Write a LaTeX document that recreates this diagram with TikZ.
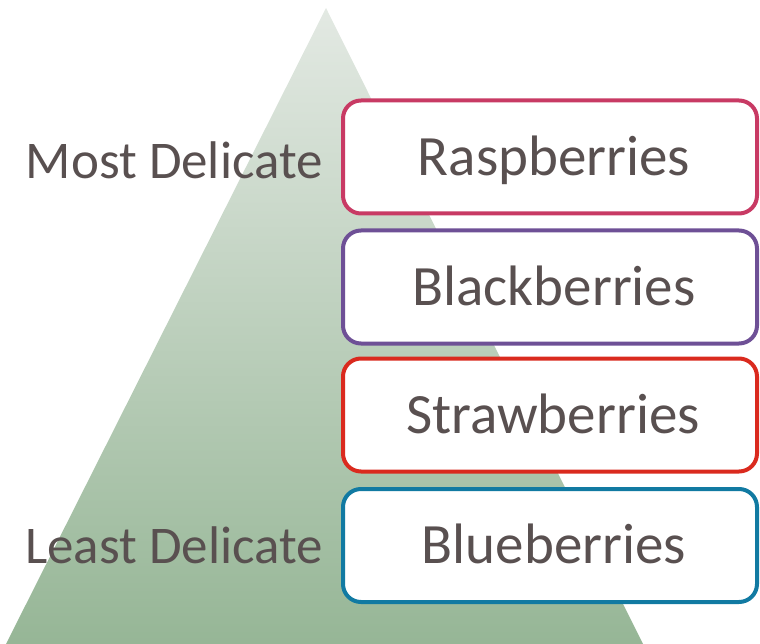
\documentclass[tikz,border=0pt]{standalone}
\usepackage{fontspec}
\setmainfont{Carlito}
\usepackage{tikz}
\definecolor{txtgray}{HTML}{595050}
\definecolor{raspcol}{HTML}{C83A64}
\definecolor{blackcol}{HTML}{6E5096}
\definecolor{strawcol}{HTML}{DA2A1E}
\definecolor{bluecol}{HTML}{117AA2}
\definecolor{pyrtop}{HTML}{E3E9E3}
\definecolor{pyrbot}{HTML}{96B696}
\tikzset{
  berry/.style={draw,line width=4pt,rounded corners=18pt,fill=white,
    minimum width=414pt,minimum height=113pt,inner sep=0pt,
    text height=36.5pt,text depth=0pt,
    text=txtgray,font=\fontsize{57}{68}\selectfont},
  level/.style={anchor=base east,text=txtgray,inner sep=0pt,
    font=\fontsize{53}{64}\selectfont}
}
\begin{document}
\begin{tikzpicture}[x=1pt,y=-1pt]
\useasboundingbox (0,0) rectangle (760,644);
\shade[top color=pyrtop,bottom color=pyrbot] (326,8) -- (643,644) -- (6,644) -- cycle;
\node[berry,draw=raspcol] (b1) at (550,157) {\hspace*{8pt}Raspberries};
\node[berry,draw=blackcol] (b2) at (550,287) {\hspace*{8pt}Blackberries};
\node[berry,draw=strawcol] (b3) at (550,415) {\hspace*{6pt}Strawberries};
\node[berry,draw=bluecol] (b4) at (550,545.5) {\hspace*{8pt}Blueberries};
\node[level] (most) at (323,179) {Most Delicate};
\node[level] (least) at (323,563) {Least Delicate};
\end{tikzpicture}
\end{document}
